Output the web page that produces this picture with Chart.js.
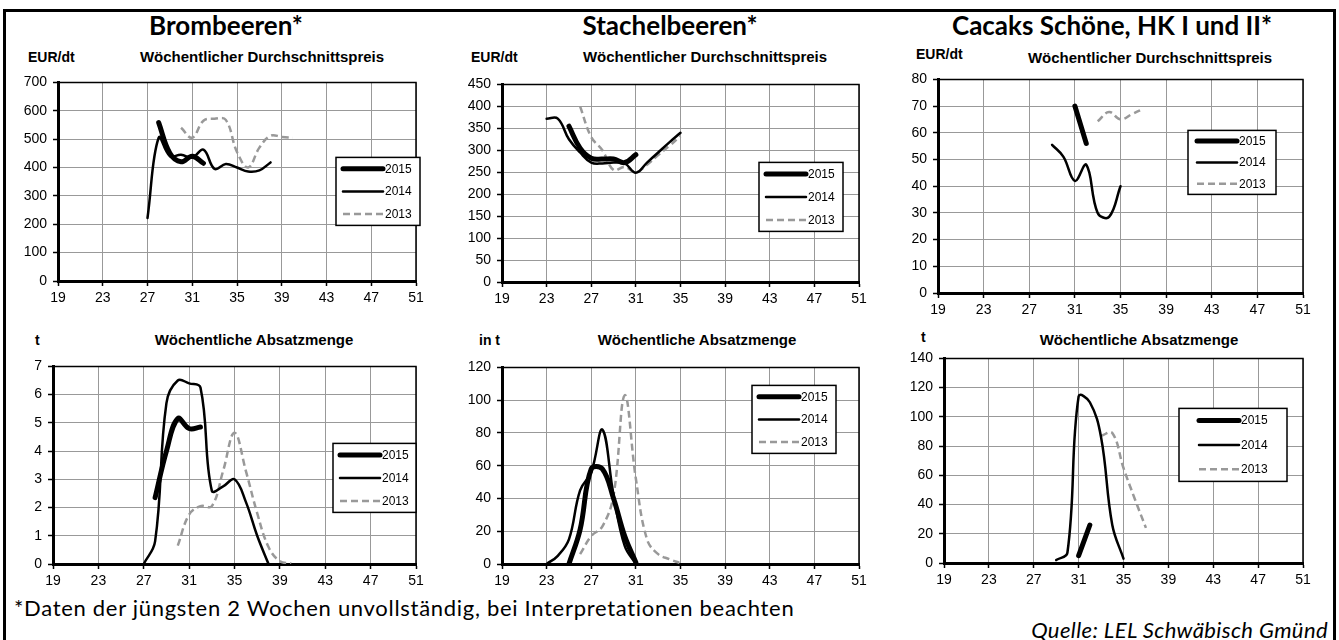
<!DOCTYPE html>
<html lang="de">
<head>
<meta charset="utf-8">
<title>Beerenobst: Preise und Absatzmengen</title>
<script src="https://cdn.jsdelivr.net/npm/chart.js@4.4.1/dist/chart.umd.min.js"></script>
<style>
  body { margin: 0; background: #fff; width: 1339px; height: 640px; overflow: hidden; position: relative; font-family: "Liberation Sans", Arial, sans-serif; color: #000; }
  #frame { position: absolute; left: 3px; top: 9px; width: 1333px; height: 700px; border: 3px solid #000; box-sizing: border-box; }
  canvas { position: absolute; }
  .title { position: absolute; font-family: Lato, sans-serif; font-weight: 700; font-size: 26px; line-height: 30px; transform: translateX(-50%); white-space: nowrap; }
  .sub { position: absolute; font-weight: 700; font-size: 15px; line-height: 18px; transform: translateX(-50%); white-space: nowrap; }
  .unit { position: absolute; font-weight: 700; font-size: 14px; line-height: 18px; white-space: nowrap; }
  .note { position: absolute; font-family: Lato, sans-serif; font-size: 22px; line-height: 24px; white-space: nowrap; }
</style>
</head>
<body>
<div id="frame"></div>

<div class="title" style="left:226px; top:10px;">Brombeeren*</div>
<div class="title" style="left:670px; top:10px;">Stachelbeeren*</div>
<div class="title" style="left:1112px; top:10px;">Cacaks Schöne, HK I und II*</div>

<div class="unit" style="left:28px; top:48px;">EUR/dt</div>
<div class="sub" style="left:262px; top:48px;">Wöchentlicher Durchschnittspreis</div>
<div class="unit" style="left:471px; top:48px;">EUR/dt</div>
<div class="sub" style="left:705px; top:48px;">Wöchentlicher Durchschnittspreis</div>
<div class="unit" style="left:916px; top:45px;">EUR/dt</div>
<div class="sub" style="left:1150px; top:49px;">Wöchentlicher Durchschnittspreis</div>

<div class="unit" style="left:35px; top:331px;">t</div>
<div class="sub" style="left:254px; top:331px;">Wöchentliche Absatzmenge</div>
<div class="unit" style="left:479px; top:331px;">in t</div>
<div class="sub" style="left:697px; top:331px;">Wöchentliche Absatzmenge</div>
<div class="unit" style="left:921px; top:328px;">t</div>
<div class="sub" style="left:1139px; top:331px;">Wöchentliche Absatzmenge</div>

<div class="note" style="left:14px; top:596px; letter-spacing:0.7px;">*Daten der jüngsten 2 Wochen unvollständig, bei Interpretationen beachten</div>
<div class="note" style="right:11px; top:618px; font-style:italic; letter-spacing:0.4px;">Quelle: LEL Schwäbisch Gmünd</div>

<script>
"use strict";

const weekTicks = [19, 23, 27, 31, 35, 39, 43, 47, 51];
const years = ["2015", "2014", "2013"];

// Brombeeren - Preis (EUR/dt)
const bromPriceWeeks2015 = [28, 29, 30, 31, 32];
const bromPrice2015 = [558, 450, 420, 440, 415];
const bromPriceWeeks2014 = [27, 28, 29, 30, 31, 32, 33, 34, 35, 36, 37, 38];
const bromPrice2014 = [222, 505, 440, 445, 435, 463, 395, 412, 400, 386, 390, 418];
const bromPriceWeeks2013 = [30, 31, 32, 33, 34, 35, 36, 37, 38, 39, 40];
const bromPrice2013 = [540, 505, 565, 572, 568, 455, 400, 470, 512, 508, 505];

// Stachelbeeren - Preis (EUR/dt)
const stachPriceWeeks2015 = [25, 26, 27, 28, 29, 30, 31];
const stachPrice2015 = [355, 305, 282, 280, 280, 272, 290];
const stachPriceWeeks2014 = [23, 24, 25, 26, 27, 28, 29, 30, 31, 32, 33, 34, 35];
const stachPrice2014 = [372, 372, 325, 295, 272, 270, 272, 270, 249, 272, 295, 318, 340];
const stachPriceWeeks2013 = [26, 27, 28, 29, 30, 31, 32, 33, 34, 35];
const stachPrice2013 = [400, 330, 300, 255, 262, 250, 267, 289, 310, 332];

// Cacaks Schoene - Preis (EUR/dt)
const cacPriceWeeks2015 = [31, 32];
const cacPrice2015 = [70, 56];
const cacPriceWeeks2014 = [29, 30, 31, 32, 33, 34, 35];
const cacPrice2014 = [55.5, 51, 42, 48, 30, 28.5, 40];
const cacPriceWeeks2013 = [33, 34, 35, 36, 37];
const cacPrice2013 = [64.3, 67.8, 65, 67, 69];

// Brombeeren - Absatzmenge (t)
const bromQtyWeeks2015 = [28, 29, 30, 31, 32];
const bromQty2015 = [2.35, 4.0, 5.15, 4.8, 4.85];
const bromQtyWeeks2014 = [27, 28, 29, 30, 31, 32, 33, 34, 35, 36, 37, 38];
const bromQty2014 = [0, 0.8, 5.7, 6.5, 6.4, 6.25, 2.6, 2.75, 3.0, 2.2, 1.0, 0];
const bromQtyWeeks2013 = [30, 31, 32, 33, 34, 35, 36, 37, 38, 39, 40];
const bromQty2013 = [0.65, 1.75, 2.05, 2.05, 3.3, 4.65, 3.3, 1.8, 0.6, 0.1, 0.02];

// Stachelbeeren - Absatzmenge (t)
const stachQtyWeeks2015 = [25, 26, 27, 28, 29, 30, 31];
const stachQty2015 = [0, 21, 58, 58, 40, 17, 1];
const stachQtyWeeks2014 = [23, 24, 25, 26, 27, 28, 29, 30, 31];
const stachQty2014 = [0, 5, 15, 45, 56, 82, 42, 11, 0];
const stachQtyWeeks2013 = [26, 27, 28, 29, 30, 31, 32, 33, 34, 35];
const stachQty2013 = [6, 17, 23, 42, 103, 52, 15, 6, 3, 0.5];

// Cacaks Schoene - Absatzmenge (t)
const cacQtyWeeks2015 = [31, 32];
const cacQty2015 = [5, 26];
const cacQtyWeeks2014 = [29, 30, 31, 32, 33, 34, 35];
const cacQty2014 = [2, 7, 114, 110, 86, 26, 3];
const cacQtyWeeks2013 = [33, 34, 35, 36, 37];
const cacQty2013 = [87, 89, 65, 44, 24];

const yearStyles = [
  { borderColor: "#000", borderWidth: 5, borderCapStyle: "round" },
  { borderColor: "#000", borderWidth: 2.5, borderCapStyle: "round" },
  { borderColor: "#999", borderWidth: 2.5, borderDash: [7, 4] },
];

// plot = chart area on the page [left, top, right, bottom]
// legend = [dx, dy, width, height, lineStart] relative to chart area
const panels = [
  { plot: [58, 78, 416, 281], yMax: 700, yStep: 100, legend: [278, 75, 84, 68, 7],
    series: [[bromPriceWeeks2015, bromPrice2015], [bromPriceWeeks2014, bromPrice2014], [bromPriceWeeks2013, bromPrice2013]] },
  { plot: [502, 80, 859, 282], yMax: 450, yStep: 50, legend: [257, 78, 84, 69, 7],
    series: [[stachPriceWeeks2015, stachPrice2015], [stachPriceWeeks2014, stachPrice2014], [stachPriceWeeks2013, stachPrice2013]] },
  { plot: [938, 75, 1303, 293], yMax: 80, yStep: 10, legend: [250, 51, 88, 64, 9],
    series: [[cacPriceWeeks2015, cacPrice2015], [cacPriceWeeks2014, cacPrice2014], [cacPriceWeeks2013, cacPrice2013]] },
  { plot: [53, 362, 416, 564], yMax: 7, yStep: 1, legend: [280, 77, 83, 69, 7],
    series: [[bromQtyWeeks2015, bromQty2015], [bromQtyWeeks2014, bromQty2014], [bromQtyWeeks2013, bromQty2013]] },
  { plot: [502, 363, 859, 564], yMax: 120, yStep: 20, legend: [250, 18, 84, 68, 7],
    series: [[stachQtyWeeks2015, stachQty2015], [stachQtyWeeks2014, stachQty2014], [stachQtyWeeks2013, stachQty2013]] },
  { plot: [944, 354, 1303, 563], yMax: 140, yStep: 20, legend: [235, 50, 108, 73, 20],
    series: [[cacQtyWeeks2015, cacQty2015], [cacQtyWeeks2014, cacQty2014], [cacQtyWeeks2013, cacQty2013]] },
];

const Y_AXIS_W = 45;
const X_AXIS_H = 26;
const PAD_TOP = 10;
const PAD_RIGHT = 15;

const plotFrame = {
  id: "plotFrame",
  beforeDatasetsDraw(chart) {
    const a = chart.chartArea;
    const ctx = chart.ctx;
    ctx.save();
    ctx.strokeStyle = "#000";
    ctx.lineWidth = 1.5;
    ctx.beginPath();
    ctx.moveTo(a.left, a.top);
    ctx.lineTo(a.right, a.top);
    ctx.lineTo(a.right, a.bottom);
    ctx.stroke();
    ctx.restore();
  },
};

const boxLegend = {
  id: "boxLegend",
  afterDatasetsDraw(chart, args, opts) {
    const a = chart.chartArea;
    const ctx = chart.ctx;
    const x = a.left + opts.box[0];
    const y = a.top + opts.box[1];
    const w = opts.box[2];
    const h = opts.box[3];
    const lineX = x + opts.box[4];
    ctx.save();
    ctx.fillStyle = "#fff";
    ctx.fillRect(x, y, w, h);
    ctx.strokeStyle = "#000";
    ctx.lineWidth = 1.5;
    ctx.strokeRect(x, y, w, h);
    chart.data.datasets.forEach(function (ds, i) {
      let rowY = y + (h * (2 * i + 1)) / 6;
      ctx.strokeStyle = ds.borderColor;
      ctx.lineWidth = ds.borderWidth;
      ctx.lineCap = ds.borderDash ? "butt" : "round";
      ctx.setLineDash(ds.borderDash || []);
      ctx.beginPath();
      ctx.moveTo(lineX, rowY);
      ctx.lineTo(lineX + 40, rowY);
      ctx.stroke();
      ctx.setLineDash([]);
      ctx.fillStyle = "#000";
      ctx.font = "12px 'Liberation Sans', Arial, sans-serif";
      ctx.textBaseline = "middle";
      ctx.fillText(ds.label, lineX + 42, rowY + 0.5);
    });
    ctx.restore();
  },
};

function toPoints(weeks, values) {
  return weeks.map(function (w, i) {
    return { x: w, y: values[i] };
  });
}

function renderPanel(panel) {
  const [left, top, right, bottom] = panel.plot;
  const canvas = document.createElement("canvas");
  const cLeft = left - Y_AXIS_W;
  const cTop = top - PAD_TOP;
  const cWidth = right + PAD_RIGHT - cLeft;
  const cHeight = bottom + X_AXIS_H - cTop;
  canvas.width = cWidth;
  canvas.height = cHeight;
  canvas.style.left = cLeft + "px";
  canvas.style.top = cTop + "px";
  canvas.style.width = cWidth + "px";
  canvas.style.height = cHeight + "px";
  document.body.appendChild(canvas);

  const datasets = panel.series.map(function (s, i) {
    return Object.assign(
      {
        label: years[i],
        data: toPoints(s[0], s[1]),
        pointRadius: 0,
        tension: 0.4,
        borderJoinStyle: "round",
        fill: false,
      },
      yearStyles[i]
    );
  });

  const tickFont = { family: "'Liberation Sans', Arial, sans-serif", size: 14 };

  new Chart(canvas, {
    type: "line",
    data: { datasets: datasets },
    plugins: [plotFrame, boxLegend],
    options: {
      responsive: false,
      animation: false,
      devicePixelRatio: 1,
      layout: { padding: { top: PAD_TOP, right: PAD_RIGHT, left: 0, bottom: 0 } },
      plugins: {
        legend: { display: false },
        tooltip: { enabled: false },
        boxLegend: { box: panel.legend },
      },
      scales: {
        x: {
          type: "linear",
          min: 19,
          max: 51,
          afterBuildTicks(scale) {
            scale.ticks = weekTicks.map(function (v) {
              return { value: v };
            });
          },
          afterFit(scale) {
            scale.height = X_AXIS_H;
          },
          grid: { color: "#999", lineWidth: 1, tickColor: "#000", tickLength: 5, tickWidth: 1.5 },
          border: { color: "#000", width: 3 },
          ticks: { color: "#000", font: tickFont, padding: 4, maxRotation: 0, autoSkip: false },
        },
        y: {
          min: 0,
          max: panel.yMax,
          afterFit(scale) {
            scale.width = Y_AXIS_W;
          },
          grid: { color: "#999", lineWidth: 1, tickColor: "#000", tickLength: 5, tickWidth: 1.5 },
          border: { color: "#000", width: 3 },
          ticks: { color: "#000", font: tickFont, padding: 6, stepSize: panel.yStep },
        },
      },
    },
  });
}

panels.forEach(renderPanel);
</script>
</body>
</html>
